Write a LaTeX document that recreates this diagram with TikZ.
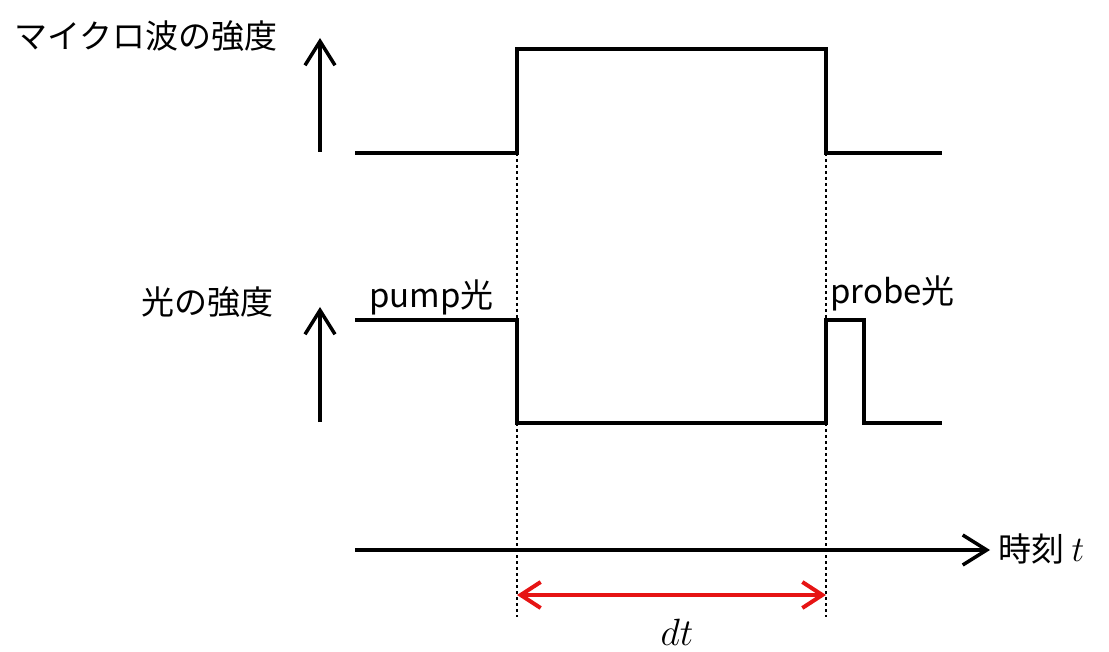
\RequirePackage{fix-cm}
\documentclass[tikz,border=0pt]{standalone}
\usepackage{fontspec}
\setmainfont{Noto Sans CJK JP}
\usetikzlibrary{arrows.meta}
\definecolor{arrowred}{RGB}{230,20,20}
\tikzset{
  sig/.style={line width=4pt, line join=miter, line cap=rect},
  axisarrow/.style={line width=3.5pt, -{Straight Barb[length=24pt,width=30pt,line width=3.5pt]}},
  guide/.style={line width=2.6pt, dash pattern=on 2.6pt off 3.4pt},
  lbl/.style={font=\fontsize{33}{40}\selectfont, inner sep=0pt},
  mathlbl/.style={font=\fontsize{38}{44}\selectfont, inner sep=0pt},
  spanarrow/.style={arrowred, line width=4pt, {Straight Barb[length=20pt,width=26pt,line width=4pt]}-{Straight Barb[length=20pt,width=26pt,line width=4pt]}}
}
\begin{document}
\begin{tikzpicture}[x=1pt,y=-1pt]
\useasboundingbox (0,0) rectangle (1109,652);
% guide lines
\coordinate (g1top) at (517,153);
\coordinate (g1bot) at (517,617);
\coordinate (g2top) at (826,153);
\coordinate (g2bot) at (826,617);
\draw[guide] (g1top) -- (g1bot);
\draw[guide] (g2top) -- (g2bot);
% microwave signal
\draw[sig] (357,153) -- (517,153) -- (517,49) -- (826,49) -- (826,153) -- (940,153);
% light signal
\draw[sig] (357,320) -- (517,320) -- (517,423) -- (826,423) -- (826,320) -- (864,320) -- (864,423) -- (940,423);
% axes
\coordinate (mwbot) at (320,152);
\coordinate (mwtop) at (320,38);
\draw[axisarrow] (mwbot) -- (mwtop);
\coordinate (ltbot) at (320,422);
\coordinate (lttop) at (320,307);
\draw[axisarrow] (ltbot) -- (lttop);
\coordinate (tstart) at (355,550);
\coordinate (tend) at (990,550);
\draw[axisarrow] (tstart) -- (tend);
% dt span
\coordinate (dtl) at (517,595);
\coordinate (dtr) at (826,595);
\draw[spanarrow] (dtl) -- (dtr);
% labels
\node[lbl, anchor=west] (mwlabel) at (14,36) {マイクロ波の強度};
\node[lbl, anchor=west] (ltlabel) at (141,302) {光の強度};
\node[lbl, anchor=west] (pump) at (369,297) {pump光};
\node[lbl, anchor=west] (probe) at (830,293) {probe光};
\node[lbl, anchor=west] (time) at (998,549) {時刻 {\fontsize{36}{40}\selectfont$t$}};
\node[mathlbl] (dt) at (677,632) {$dt$};
\end{tikzpicture}
\end{document}
